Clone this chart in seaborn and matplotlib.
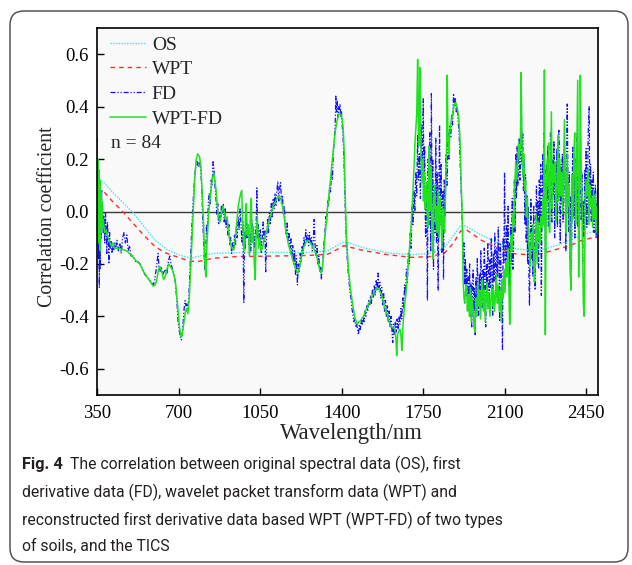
import matplotlib
matplotlib.use("Agg")
import numpy as np
import pandas as pd
import matplotlib.pyplot as plt
import seaborn as sns
from matplotlib.patches import FancyBboxPatch
from matplotlib.lines import Line2D
from matplotlib.transforms import IdentityTransform

# ---------------- data ----------------
os_wl = [350, 380, 420, 460, 500, 550, 600, 650, 700, 750, 800, 850, 950, 1100, 1250,
         1340, 1380, 1410, 1430, 1500, 1600, 1700, 1780, 1840, 1880, 1910, 1930, 1960,
         2000, 2060, 2130, 2200, 2260, 2320, 2380, 2430, 2500]
os_val = [0.13, 0.11, 0.07, 0.035, 0.0, -0.055, -0.11, -0.145, -0.165, -0.178, -0.168,
          -0.16, -0.157, -0.156, -0.157, -0.15, -0.13, -0.115, -0.12, -0.14, -0.158,
          -0.165, -0.16, -0.14, -0.09, -0.055, -0.055, -0.07, -0.09, -0.115, -0.14,
          -0.148, -0.145, -0.13, -0.11, -0.09, -0.07]

wpt_wl = [350, 380, 420, 460, 500, 550, 600, 650, 700, 750, 790, 850, 950, 1100, 1250,
          1340, 1380, 1410, 1430, 1500, 1600, 1700, 1780, 1840, 1880, 1910, 1935, 1960,
          2000, 2060, 2130, 2200, 2260, 2320, 2380, 2430, 2500]
wpt_val = [0.09, 0.075, 0.035, 0.0, -0.04, -0.09, -0.135, -0.16, -0.175, -0.19, -0.19,
           -0.178, -0.172, -0.17, -0.168, -0.163, -0.145, -0.13, -0.135, -0.15, -0.165,
           -0.175, -0.172, -0.16, -0.12, -0.075, -0.07, -0.085, -0.11, -0.135, -0.16,
           -0.165, -0.16, -0.145, -0.13, -0.11, -0.095]

fd_points = [
    (350, .28), (352, .05), (354, .18), (356, -.18), (358, .10), (360, -.29), (362, .02),
    (364, -.22), (366, .06), (368, -.10), (370, .08), (372, -.03), (374, .02), (377, -.08),
    (380, -.02), (383, -.12), (386, .00), (389, -.06), (392, -.16), (395, -.04), (398, -.10),
    (401, -.20), (404, -.08), (407, -.14), (410, -.11), (414, -.16), (418, -.13), (422, -.15),
    (426, -.12), (430, -.14), (436, -.11), (442, -.15), (448, -.12), (454, -.16), (460, -.10),
    (466, -.08), (472, -.12), (478, -.09), (484, -.15), (490, -.13), (496, -.17), (505, -.17),
    (515, -.19), (525, -.19), (535, -.20), (545, -.22), (555, -.24), (565, -.25), (575, -.26),
    (585, -.27), (592, -.28), (598, -.26), (604, -.22), (608, -.19), (612, -.16), (616, -.21),
    (620, -.23), (626, -.21), (632, -.24), (638, -.23), (644, -.22), (650, -.24), (656, -.19),
    (662, -.17), (668, -.20), (674, -.22), (680, -.24), (686, -.27), (692, -.33), (698, -.42),
    (704, -.46), (708, -.48), (712, -.49), (716, -.46), (720, -.42), (724, -.37), (728, -.34),
    (732, -.36), (736, -.35), (740, -.37), (744, -.33), (748, -.24), (752, -.16), (756, -.08),
    (760, .00), (764, .06), (768, .12), (772, .16), (776, .19), (780, .19), (784, .17),
    (788, .19), (792, .18), (796, .15), (800, .08), (804, -.04), (808, -.12), (812, -.22),
    (816, -.18), (820, -.05), (824, -.09), (828, .04), (832, .07), (836, .03), (840, .12),
    (844, .10), (848, .19), (852, .16), (856, .10), (860, .06), (864, -.01), (868, .03),
    (872, -.05), (876, .00), (880, -.03), (884, .02), (888, -.01), (892, .03), (896, -.04),
    (900, .01), (904, -.06), (908, -.03), (912, -.09), (916, -.05), (920, -.13), (924, -.10),
    (928, -.16), (932, -.12), (936, -.15), (940, -.09), (944, -.13), (948, -.06), (952, -.10),
    (956, -.02), (960, -.07), (964, .01), (968, -.05), (972, -.12), (976, -.04), (980, -.35),
    (983, -.08), (986, -.14), (990, -.02), (994, -.10), (998, -.05), (1002, -.13), (1006, -.08),
    (1010, -.15), (1014, -.03), (1018, -.11), (1022, -.06), (1026, -.14), (1030, -.09),
    (1034, -.02), (1036, .09), (1039, -.10), (1043, -.05), (1047, -.13), (1051, -.07),
    (1055, -.16), (1059, -.10), (1063, -.04), (1067, -.12), (1071, -.07), (1074, -.23),
    (1078, -.09), (1082, -.03), (1086, -.08), (1090, .00), (1094, -.05), (1098, .03),
    (1102, -.02), (1106, .05), (1110, .01), (1114, .07), (1118, .02), (1122, .08), (1126, .115),
    (1130, .04), (1134, .09), (1138, .11), (1142, .03), (1146, .06), (1150, -.01), (1154, .02),
    (1158, -.05), (1162, -.09), (1166, -.04), (1170, -.11), (1174, -.08), (1178, -.14),
    (1182, -.10), (1186, -.17), (1190, -.13), (1194, -.20), (1198, -.15), (1202, -.24),
    (1206, -.18), (1210, -.28), (1214, -.20), (1218, -.23), (1222, -.16), (1226, -.19),
    (1230, -.13), (1234, -.16), (1238, -.10), (1242, -.13), (1246, -.07), (1250, -.11),
    (1254, -.09), (1258, -.13), (1262, -.08), (1266, -.12), (1270, -.10), (1274, -.15),
    (1278, -.11), (1282, -.03), (1286, -.13), (1290, -.17), (1294, -.13), (1298, -.20),
    (1302, -.17), (1306, -.23), (1310, -.21), (1313, -.26), (1316, -.22), (1320, -.18),
    (1324, -.12), (1328, -.08), (1332, -.02), (1336, -.04), (1340, .04), (1344, .02),
    (1348, .09), (1352, .07), (1356, .15), (1360, .12), (1364, .22), (1368, .27), (1372, .33),
    (1375, .44), (1378, .38), (1381, .42), (1384, .36), (1387, .40), (1390, .39), (1393, .41),
    (1396, .36), (1399, .38), (1402, .33), (1405, .30), (1408, .24), (1411, .16), (1414, .06),
    (1417, -.04), (1420, -.12), (1424, -.18), (1428, -.23), (1432, -.27), (1436, -.31),
    (1440, -.33), (1444, -.37), (1448, -.39), (1452, -.42), (1456, -.41), (1460, -.44),
    (1464, -.43), (1468, -.45), (1472, -.47), (1476, -.43), (1480, -.45), (1484, -.41),
    (1488, -.43), (1492, -.40), (1496, -.42), (1500, -.38), (1504, -.40), (1508, -.36),
    (1512, -.38), (1516, -.34), (1520, -.36), (1524, -.32), (1528, -.35), (1532, -.30),
    (1536, -.33), (1540, -.28), (1544, -.32), (1548, -.26), (1552, -.30), (1556, -.235),
    (1560, -.29), (1564, -.27), (1568, -.33), (1572, -.29), (1576, -.36), (1580, -.31),
    (1584, -.38), (1588, -.34), (1592, -.40), (1596, -.36), (1600, -.42), (1604, -.38),
    (1608, -.44), (1612, -.40), (1616, -.46), (1619, -.50), (1622, -.43), (1626, -.47),
    (1630, -.42), (1634, -.46), (1638, -.41), (1642, -.45), (1646, -.40), (1650, -.43),
    (1654, -.37), (1658, -.41), (1662, -.33), (1666, -.37), (1670, -.28), (1674, -.32),
    (1678, -.22), (1682, -.27), (1686, -.16), (1690, -.20), (1694, -.08), (1698, -.14),
    (1702, .02), (1706, -.05), (1710, .08), (1714, .00), (1718, .15), (1722, .06), (1726, .29),
    (1730, .12), (1734, .22), (1738, .05), (1742, .33), (1746, .14), (1750, .43), (1753, .08),
    (1756, .25), (1760, -.10), (1764, .10), (1768, -.34), (1771, .20), (1774, -.05),
    (1778, .30), (1782, -.15), (1785, .45), (1788, .02), (1791, .20), (1794, -.22), (1797, .10),
    (1800, -.08), (1804, .28), (1807, -.12), (1810, .15), (1814, -.30), (1817, .05), (1820, .33),
    (1824, -.05), (1827, .18), (1830, -.16), (1834, .08), (1837, -.26), (1840, .12),
    (1844, -.02), (1848, .22), (1852, .10), (1856, .30), (1860, .20), (1864, .33), (1868, .28),
    (1872, .37), (1876, .33), (1880, .45), (1884, .40), (1888, .43), (1892, .38), (1896, .40),
    (1900, .34), (1904, .30), (1908, .20), (1912, .10), (1916, .01), (1919, -.08), (1922, -.20),
    (1925, -.12), (1928, -.28), (1931, -.18), (1934, -.32), (1937, -.22), (1940, -.38),
    (1943, -.25), (1946, -.33), (1949, -.20), (1952, -.40), (1955, -.27), (1958, -.44),
    (1961, -.30), (1964, -.22), (1967, -.38), (1970, -.29), (1973, -.47), (1976, -.25),
    (1979, -.35), (1982, -.18), (1985, -.30), (1988, -.40), (1991, -.24), (1994, -.33),
    (1997, -.15), (2000, -.28), (2003, -.37), (2006, -.22), (2009, -.30), (2012, -.14),
    (2015, -.26), (2018, -.44), (2021, -.20), (2024, -.31), (2027, -.12), (2030, -.24),
    (2033, -.35), (2036, -.18), (2039, -.29), (2042, -.10), (2045, -.22), (2048, -.40),
    (2051, -.16), (2054, -.27), (2057, -.08), (2060, -.20), (2063, -.33), (2066, -.14),
    (2069, -.25), (2072, -.06), (2075, -.18), (2078, -.42), (2081, -.12), (2084, -.22),
    (2087, -.30), (2090, -.53), (2093, -.10), (2096, -.20), (2099, .15), (2102, -.15),
    (2105, -.25), (2108, -.05), (2111, -.18), (2114, .02), (2117, -.28), (2120, -.12),
    (2123, -.35), (2126, -.05), (2129, -.20), (2132, .05), (2135, -.22), (2138, -.10),
    (2141, .12), (2144, -.08), (2147, .22), (2150, .05), (2153, .25), (2156, .10), (2159, .20),
    (2162, .28), (2165, .12), (2168, .24), (2171, .46), (2174, .18), (2177, .30), (2180, .08),
    (2183, .20), (2186, -.05), (2189, .14), (2192, -.12), (2195, .06), (2198, -.20),
    (2201, .02), (2204, -.28), (2206, -.36), (2209, -.10), (2212, .05), (2215, -.18),
    (2218, -.05), (2221, -.25), (2224, .02), (2227, -.15), (2230, -.30), (2233, -.04),
    (2236, .10), (2239, -.12), (2242, .04), (2245, -.22), (2248, .12), (2251, -.05),
    (2254, .18), (2257, -.32), (2260, .06), (2263, .22), (2266, -.02), (2269, .30), (2272, .02),
    (2275, -.15), (2278, .18), (2281, .04), (2284, .25), (2287, -.06), (2290, .15), (2293, .02),
    (2296, .30), (2299, .10), (2302, -.04), (2305, .20), (2308, .06), (2311, .27), (2314, -.10),
    (2317, .14), (2320, .02), (2323, .24), (2326, -.06), (2329, .16), (2332, .31), (2335, .08),
    (2338, -.12), (2341, .18), (2344, .03), (2347, .22), (2350, -.04), (2353, .12), (2356, .26),
    (2359, .05), (2362, -.15), (2365, .18), (2368, .41), (2371, .10), (2374, -.08), (2377, .15),
    (2380, -.18), (2383, .06), (2386, -.22), (2389, .10), (2392, .25), (2395, -.02), (2398, .14),
    (2401, -.10), (2404, .20), (2407, .04), (2410, .30), (2413, -.06), (2416, .12), (2419, -.12),
    (2422, .08), (2425, .20), (2428, -.03), (2431, .15), (2434, -.20), (2437, .04), (2440, -.10),
    (2443, .16), (2446, .02), (2449, .24), (2452, -.06), (2455, .10), (2458, .30), (2462, .40),
    (2465, .05), (2468, .18), (2471, -.04), (2474, .12), (2477, .00), (2480, .15), (2483, -.08),
    (2486, .06), (2489, .10), (2492, -.10), (2495, .03), (2498, .08), (2500, -.02),
]

wptfd_points = [
    (350, .25), (352, .02), (354, .20), (356, -.12), (358, .16), (360, -.05), (362, .12),
    (364, -.15), (366, .08), (368, -.08), (370, .04), (373, -.06), (377, -.03), (382, -.08),
    (388, -.07), (395, -.09), (402, -.11), (410, -.13), (418, -.12), (425, -.14), (440, -.14),
    (460, -.145), (478, -.15), (500, -.17), (520, -.19), (534, -.20), (550, -.23), (565, -.25),
    (580, -.27), (592, -.285), (600, -.28), (607, -.26), (614, -.22), (620, -.21), (628, -.23),
    (636, -.26), (642, -.25), (650, -.22), (658, -.20), (665, -.21), (672, -.22), (680, -.24),
    (688, -.28), (696, -.36), (704, -.44), (710, -.48), (716, -.47), (722, -.43), (728, -.39),
    (734, -.37), (740, -.39), (746, -.33), (752, -.22), (758, -.10), (764, .02), (770, .13),
    (776, .20), (782, .22), (790, .21), (796, .17), (802, .06), (808, -.06), (813, -.20),
    (817, -.25), (822, -.12), (828, -.02), (834, .04), (840, .09), (846, .13), (851, .145),
    (856, .12), (861, .08), (866, .02), (872, -.02), (878, -.04), (884, -.01), (890, .02),
    (896, .00), (902, -.03), (908, -.02), (914, -.07), (920, -.11), (926, -.13), (932, -.145),
    (938, -.14), (944, -.10), (950, -.04), (956, .02), (962, .05), (967, .07), (971, .08),
    (975, -.04), (979, -.13), (983, -.15), (987, -.02), (991, .03), (995, -.09), (999, -.05),
    (1004, -.17), (1008, -.02), (1012, .05), (1016, -.12), (1020, -.06), (1025, -.20),
    (1029, -.26), (1033, -.09), (1038, -.02), (1043, -.14), (1048, -.10), (1053, -.15),
    (1060, -.14), (1067, -.11), (1075, -.08), (1082, -.06), (1090, -.03), (1097, -.01),
    (1105, .02), (1117, .04), (1125, .055), (1132, .06), (1140, .045), (1146, .02),
    (1153, -.02), (1160, -.07), (1170, -.12), (1182, -.16), (1192, -.19), (1203, -.22),
    (1213, -.235), (1220, -.21), (1228, -.17), (1239, -.13), (1253, -.11), (1262, -.115),
    (1272, -.13), (1282, -.145), (1290, -.16), (1298, -.19), (1305, -.22), (1311, -.235),
    (1317, -.22), (1322, -.17), (1327, -.11), (1333, -.05), (1339, .01), (1346, .07),
    (1353, .13), (1360, .20), (1367, .26), (1373, .31), (1379, .34), (1385, .365), (1391, .375),
    (1397, .37), (1403, .35), (1407, .31), (1411, .22), (1414, .10), (1417, .00), (1420, -.09),
    (1424, -.15), (1429, -.22), (1437, -.29), (1448, -.36), (1458, -.41), (1468, -.43),
    (1474, -.42), (1479, -.42), (1486, -.41), (1494, -.40), (1501, -.38), (1508, -.37),
    (1515, -.355), (1522, -.34), (1530, -.325), (1537, -.31), (1544, -.30), (1551, -.29),
    (1557, -.295), (1562, -.30), (1567, -.31), (1572, -.32), (1579, -.345), (1586, -.37),
    (1594, -.39), (1601, -.41), (1608, -.43), (1615, -.44), (1622, -.445), (1629, -.45),
    (1633, -.49), (1636, -.55), (1640, -.47), (1644, -.46), (1648, -.45), (1651, -.45),
    (1655, -.48), (1658, -.53), (1661, -.47), (1665, -.41), (1670, -.36), (1676, -.31),
    (1681, -.25), (1686, -.20), (1690, -.15), (1694, -.11), (1698, -.05), (1701, -.01),
    (1705, .06), (1708, .12), (1712, .20), (1715, .27), (1719, .33), (1722, .37), (1726, .58),
    (1729, .30), (1732, .25), (1735, .55), (1738, .40), (1741, .19), (1745, .11), (1748, .20),
    (1751, .04), (1755, .15), (1758, .01), (1762, .08), (1765, .11), (1768, -.05), (1772, -.06),
    (1775, .25), (1778, .00), (1781, .17), (1785, .14), (1788, -.12), (1792, -.18), (1795, .05),
    (1799, .10), (1803, -.04), (1806, .02), (1810, -.08), (1814, .08), (1818, -.10), (1822, .05),
    (1826, -.02), (1830, -.14), (1834, .01), (1838, -.04), (1842, -.08), (1846, .10),
    (1850, .24), (1853, .52), (1856, .30), (1860, .22), (1864, .30), (1868, .33), (1872, .35),
    (1877, .38), (1882, .40), (1887, .415), (1892, .41), (1897, .39), (1902, .36), (1906, .31),
    (1910, .22), (1913, .10), (1916, .03), (1918, -.06), (1921, -.26), (1925, -.33),
    (1928, -.35), (1932, -.30), (1936, -.28), (1940, -.38), (1944, -.32), (1948, -.40),
    (1952, -.29), (1956, -.42), (1960, -.33), (1964, -.38), (1968, -.44), (1972, -.46),
    (1976, -.33), (1980, -.40), (1984, -.27), (1988, -.36), (1992, -.30), (1996, -.41),
    (2000, -.32), (2004, -.26), (2008, -.38), (2012, -.30), (2016, -.42), (2020, -.33),
    (2024, -.27), (2028, -.37), (2032, -.31), (2036, -.40), (2040, -.34), (2044, -.28),
    (2048, -.36), (2052, -.30), (2056, -.38), (2060, -.32), (2064, -.24), (2068, -.35),
    (2072, -.28), (2076, -.38), (2080, -.30), (2085, -.42), (2089, -.26), (2093, -.33),
    (2097, -.22), (2101, -.31), (2105, -.19), (2110, -.25), (2114, -.14), (2118, -.30),
    (2121, -.43), (2124, -.35), (2127, -.09), (2131, -.15), (2135, -.01), (2139, -.05),
    (2143, .10), (2147, .19), (2151, .12), (2155, .17), (2159, .26), (2163, .20), (2167, .26),
    (2170, .53), (2173, .30), (2177, .14), (2181, .22), (2185, .08), (2189, .12), (2193, -.02),
    (2197, .05), (2201, -.10), (2206, -.16), (2210, -.21), (2214, -.08), (2218, -.14),
    (2222, -.05), (2227, -.27), (2231, -.17), (2235, -.01), (2239, -.20), (2243, -.04),
    (2247, -.10), (2251, -.12), (2255, -.02), (2259, -.06), (2263, .05), (2267, -.05),
    (2270, .54), (2274, -.47), (2278, .08), (2282, .20), (2286, .10), (2288, .26), (2292, -.08),
    (2296, .12), (2300, .38), (2304, .01), (2308, .18), (2312, .11), (2316, .19), (2320, -.04),
    (2324, .08), (2328, .29), (2332, .04), (2336, .20), (2340, .06), (2344, .15), (2348, -.01),
    (2352, .12), (2356, .35), (2360, .09), (2364, -.08), (2368, .22), (2372, .02), (2376, .10),
    (2380, -.22), (2384, -.30), (2388, .14), (2392, -.03), (2396, .20), (2400, .30),
    (2404, -.05), (2408, .16), (2413, .50), (2417, -.25), (2421, .05), (2424, .52), (2428, .14),
    (2432, .02), (2437, -.35), (2441, -.40), (2445, .03), (2449, .12), (2453, .06), (2457, .16),
    (2461, -.05), (2465, .10), (2469, .02), (2473, .05), (2477, -.06), (2481, .08), (2485, -.03),
    (2489, .06), (2493, -.08), (2497, .02), (2500, -.05),
]

series_labels = ["OS", "WPT", "FD", "WPT-FD"]
x_ticks = [350, 700, 1050, 1400, 1750, 2100, 2450]
y_ticks = [-0.6, -0.4, -0.2, 0.0, 0.2, 0.4, 0.6]
caption_lines = [
    "The correlation between original spectral data (OS), first",
    "derivative data (FD), wavelet packet transform data (WPT) and",
    "reconstructed first derivative data based WPT (WPT-FD) of two types",
    "of soils, and the TICS",
]

# ---------------- styling ----------------
sns.set_style("ticks")
SERIF = ["Liberation Serif", "DejaVu Serif"]
plt.rcParams["font.family"] = SERIF
plt.rcParams["axes.unicode_minus"] = False

W, H = 632, 565
fig = plt.figure(figsize=(W / 100, H / 100), dpi=100)
fig.patch.set_facecolor("white")
ax = fig.add_axes([97 / W, 1 - 395 / H, (598 - 97) / W, (395 - 28) / H])
ax.set_facecolor("#f9f9f9")

styles = {
    "OS": dict(color="#3fe3ee", lw=1.0, ls=(0, (1, 1))),
    "WPT": dict(color="#ff2a2a", lw=1.0, ls=(0, (3.2, 3.0))),
    "FD": dict(color="#1010ff", lw=0.9, ls=(0, (4, 1.5, 1, 1.5, 1, 1.5))),
    "WPT-FD": dict(color="#1ee21e", lw=1.1, ls="-"),
}

frames = {
    "OS": pd.DataFrame({"wl": os_wl, "r": os_val}),
    "WPT": pd.DataFrame({"wl": wpt_wl, "r": wpt_val}),
    "FD": pd.DataFrame(fd_points, columns=["wl", "r"]),
    "WPT-FD": pd.DataFrame(wptfd_points, columns=["wl", "r"]),
}

ax.axhline(0, color="#3a3a3a", lw=1.0, zorder=1.5)
for name in series_labels:
    st = styles[name]
    sns.lineplot(data=frames[name], x="wl", y="r", ax=ax, color=st["color"],
                 linewidth=st["lw"], linestyle=st["ls"], estimator=None,
                 errorbar=None, sort=True, zorder=2)

ax.set_xlim(350, 2500)
ax.set_ylim(-0.7, 0.7)
ax.set_xticks(x_ticks)
ax.set_xticklabels([str(v) for v in x_ticks], family=SERIF)
ax.set_yticks(y_ticks)
ax.set_yticklabels(["%.1f" % v for v in y_ticks], family=SERIF)
ax.set_xlabel("")
ax.set_ylabel("")
ax.tick_params(direction="in", length=5, width=1.0, labelsize=13.5, colors="black")
ax.tick_params(axis="x", pad=7)
ax.tick_params(axis="y", pad=6)
for sp in ax.spines.values():
    sp.set_visible(True)
    sp.set_linewidth(1.2)
    sp.set_color("black")

handles = [Line2D([0], [0], color=styles[n]["color"], lw=styles[n]["lw"],
                  ls=styles[n]["ls"]) for n in series_labels]
ax.legend(handles, series_labels, loc="upper left", bbox_to_anchor=(0.026, 0.978),
          frameon=False, prop={"family": SERIF, "size": 14}, handlelength=1.85,
          handletextpad=0.3, labelspacing=0.36, borderpad=0, borderaxespad=0)
ax.text(0.028, (395 - 143) / 367, "n = 84", transform=ax.transAxes, fontsize=14,
        family=SERIF, va="center", ha="left")

fig.text(48 / W, 1 - 217 / H, "Correlation coefficient", rotation=90, ha="center",
         va="center", fontsize=14.3, family=SERIF)
fig.text(351 / W, 1 - 433 / H, "Wavelength/nm", ha="center", va="center", fontsize=16.3,
         family=SERIF)

# rounded frame around the whole figure
frame = FancyBboxPatch((10, 3), 618, 551, boxstyle="round,pad=0,rounding_size=14",
                       transform=IdentityTransform(), facecolor="none",
                       edgecolor="#555555", lw=1.1, zorder=0)
fig.add_artist(frame)

# caption (sans-serif)
SANS = ["Roboto", "Liberation Sans", "DejaVu Sans"]
txt_color = "#231f20"
baselines = [469, 497, 525, 551]
fig.canvas.draw()
renderer = fig.canvas.get_renderer()
probe = fig.text(22 / W, 0.5, caption_lines[2], fontsize=11, family=SANS)
wpx = probe.get_window_extent(renderer).width
probe.remove()
cap_size = min(11.3, 11 * 505 / wpx)

bold = fig.text(22 / W, 1 - baselines[0] / H, "Fig. 4", fontsize=cap_size * 1.04,
                family=SANS, weight="bold", va="baseline", color=txt_color)
bw = bold.get_window_extent(renderer).width
fig.text((22 + bw + 7) / W, 1 - baselines[0] / H, caption_lines[0], fontsize=cap_size,
         family=SANS, va="baseline", color=txt_color)
for line, b in zip(caption_lines[1:], baselines[1:]):
    fig.text(22 / W, 1 - b / H, line, fontsize=cap_size, family=SANS,
             va="baseline", color=txt_color)

fig.savefig("out.png", dpi=100)
